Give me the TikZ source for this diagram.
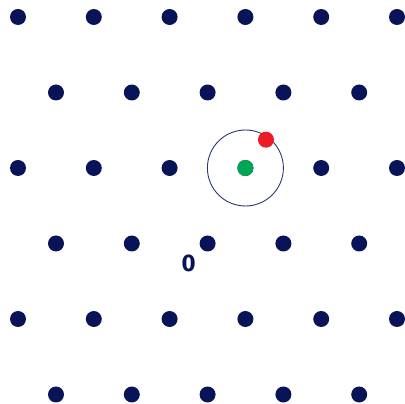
\documentclass[tikz,border=0pt]{standalone}
\usepackage{fontspec}
\newfontfamily\ltfont{Fira Sans}
\usetikzlibrary{positioning}
\definecolor{ltNavy}{HTML}{081457}
\definecolor{ltGreen}{HTML}{00A651}
\definecolor{ltRed}{HTML}{EC1C24}
\tikzset{
  lt-dot/.style={circle, fill=ltNavy, inner sep=0pt, minimum size=16pt},
  lt-green/.style={lt-dot, fill=ltGreen},
  lt-red/.style={lt-dot, fill=ltRed},
  lt-orbit/.style={circle, draw=ltNavy!85, line width=0.9pt, inner sep=0pt,
    minimum size=76pt},
  lt-label/.style={font=\ltfont\bfseries\fontsize{24}{28}\selectfont,
    text=ltNavy, inner sep=0pt}
}
\begin{document}
\begin{tikzpicture}[x=1pt,y=1pt]
\useasboundingbox (0,0) rectangle (405,404);
% lattice points
\foreach \r in {0,2,4}
  \foreach \c in {0,...,5}
    \node[lt-dot] (p-\r-\c) at ({18+75.8*\c},{387-75.5*\r}) {};
\foreach \r in {1,3,5}
  \foreach \c in {0,...,4}
    \node[lt-dot] (p-\r-\c) at ({56+75.8*\c},{387-75.5*\r}) {};
% site with its neighbourhood
\node[lt-orbit] (orbit) at (p-2-3) {};
\node[lt-green] (site) at (p-2-3) {};
\node[lt-red] (probe) at ([shift={(54:35)}]site) {};
\node[lt-label, below left=5pt and 6pt of p-3-2] (zero) {0};
\end{tikzpicture}
\end{document}
